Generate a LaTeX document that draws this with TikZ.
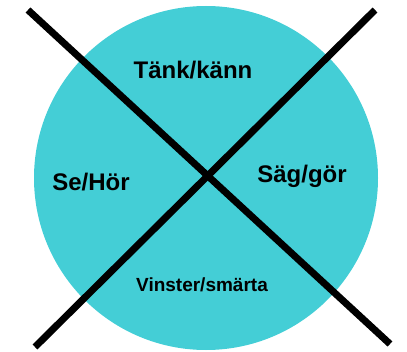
\documentclass[tikz,border=0pt]{standalone}
\usepackage{fontspec}
\setmainfont{Liberation Sans}
\usetikzlibrary{positioning}
\definecolor{turq}{RGB}{68,206,214}
\definecolor{ink}{RGB}{0,0,0}
\tikzset{
  disc/.style={circle,fill=turq,inner sep=0pt,minimum size=344pt},
  cross/.style={draw=ink,line width=7pt},
  lab/.style={font=\bfseries\fontsize{24}{26}\selectfont,text=ink,inner sep=0pt},
  sublab/.style={font=\bfseries\fontsize{19}{21}\selectfont,text=ink,inner sep=0pt},
}

\begin{document}
\begin{tikzpicture}[x=1pt,y=1pt]
  \useasboundingbox (0,0) rectangle (407,351);
  \node[disc] (C) at (206,173) {};
  \coordinate (TL) at (28,341);
  \coordinate (BR) at (390,7);
  \coordinate (TR) at (375,341);
  \coordinate (BL) at (35,4);
  \draw[cross] (TL) -- (BR);
  \draw[cross] (TR) -- (BL);
  \node[lab] (tank) at (193,281) {Tänk/känn};
  \node[lab] (se) at (91,169) {Se/Hör};
  \node[lab] (sag) at (302,175) {Säg/gör};
  \node[sublab] (vin) at (202,66) {Vinster/smärta};
\end{tikzpicture}
\end{document}
